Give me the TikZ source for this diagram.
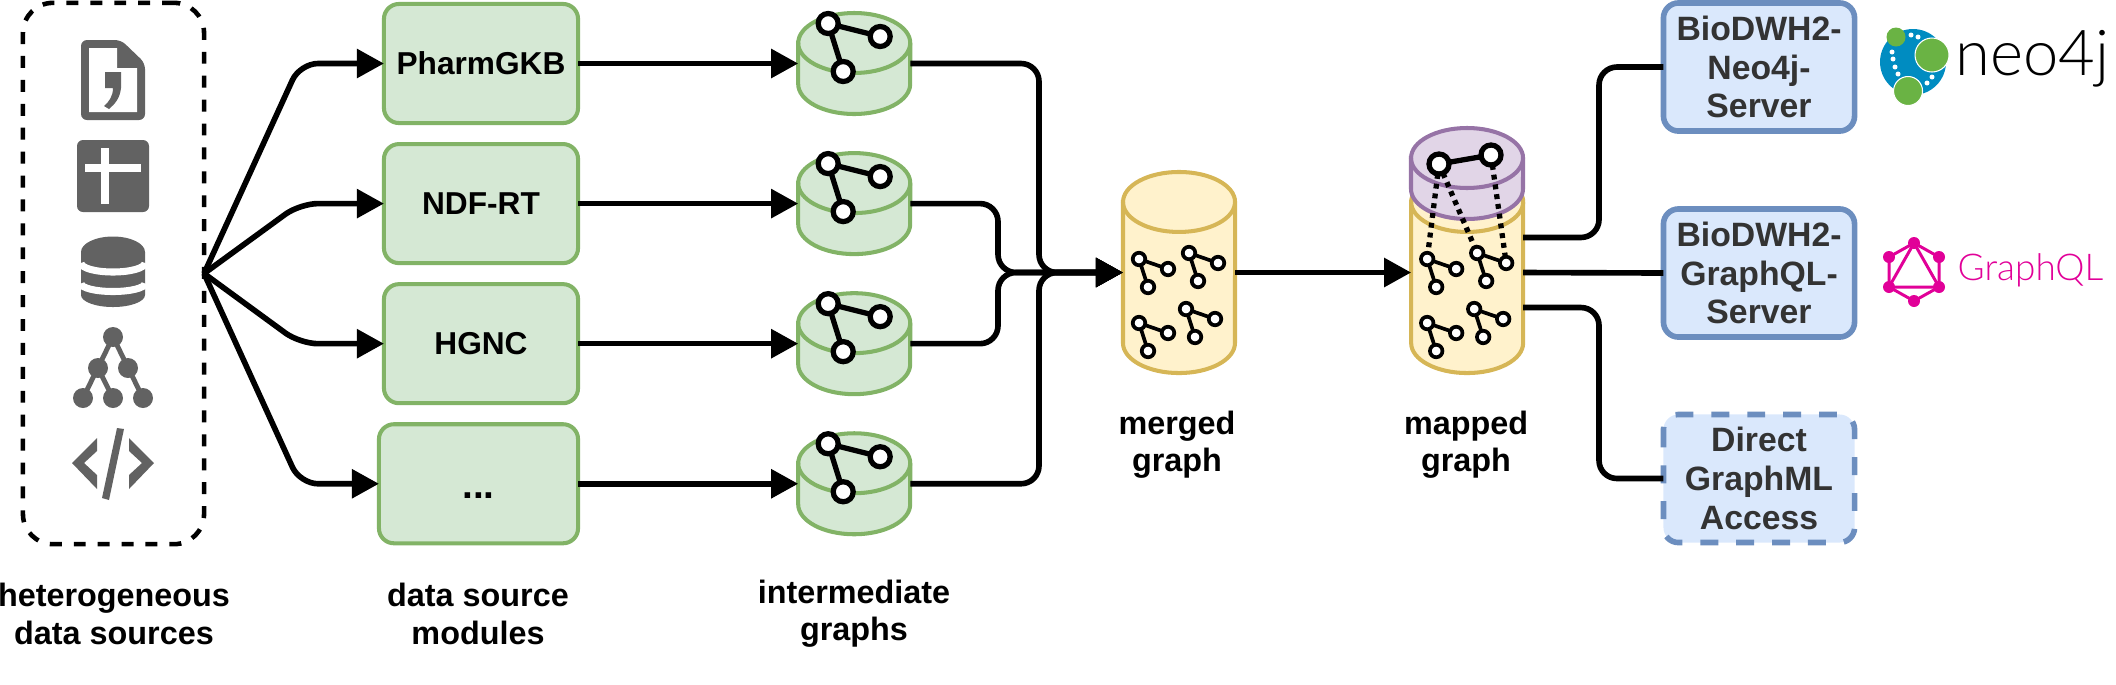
\documentclass[tikz,border=0pt]{standalone}
\usepackage{xcolor}
\usepackage{fontspec}
\setmainfont{Liberation Sans}
\newfontfamily\logofont[UprightFont=* Light]{Lato}
\usetikzlibrary{positioning,arrows.meta}
\definecolor{cgreen}{HTML}{D5E8D4}
\definecolor{dgreen}{HTML}{82B366}
\definecolor{cyellow}{HTML}{FFF2CC}
\definecolor{dyellow}{HTML}{D6B656}
\definecolor{cpurple}{HTML}{E1D5E7}
\definecolor{dpurple}{HTML}{9673A6}
\definecolor{cblue}{HTML}{DAE8FC}
\definecolor{dblue}{HTML}{6C8EBF}
\definecolor{cicon}{HTML}{626262}
\definecolor{ctext}{HTML}{333333}
\definecolor{cneoblue}{HTML}{008CC1}
\definecolor{cneogreen}{HTML}{6AB344}
\definecolor{cgql}{HTML}{E10098}
\newcommand{\drum}[3]{
  \filldraw[fill=#2, draw=#3, line width=1.15pt] ([yshift=-0.3cm]#1.north west)
    -- ([yshift=0.3cm]#1.south west) arc[start angle=180, end angle=0, x radius=56, y radius=30]
    -- ([yshift=-0.3cm]#1.north east) arc[start angle=0, end angle=-180, x radius=56, y radius=30] -- cycle;
  \draw[#3, line width=1.15pt] ([yshift=-0.3cm]#1.north west) arc[start angle=180, end angle=0, x radius=56, y radius=30];
}
\tikzset{
  modbox/.style={rounded corners=0.15cm, draw=dgreen, fill=cgreen, line width=1.15pt,
    minimum height=1.19cm, minimum width=1.94cm, inner sep=0pt, outer sep=0pt,
    align=center, font=\bfseries\fontsize{9}{11}\selectfont},
  srvbox/.style={rounded corners=0.15cm, draw=dblue, fill=cblue, line width=1.6pt,
    minimum height=1.28cm, minimum width=1.91cm, inner sep=0pt, outer sep=0pt,
    align=center, text=ctext, font=\bfseries\fontsize{9.6}{11}\selectfont},
  lowdrum/.style={minimum height=1.01cm, minimum width=1.12cm, inner sep=0pt, outer sep=0pt},
  talldrum/.style={minimum height=2.01cm, minimum width=1.12cm, inner sep=0pt, outer sep=0pt},
  caption/.style={align=center, font=\bfseries\fontsize{9.2}{10.6}\selectfont},
  flowline/.style={line width=1.6pt, rounded corners=0.18cm},
  flowarrow/.style={flowline, -{Triangle[length=7.7pt,width=8pt]}},
  linkdots/.style={line width=1.5pt, dash pattern=on 1.4pt off 1.4pt},
  bignode/.style={circle, draw, fill=white, line width=1.5pt, minimum size=0.2cm, inner sep=0pt, outer sep=0pt},
  tinynode/.style={circle, draw, fill=white, line width=1.05pt, minimum size=0.125cm, inner sep=0pt, outer sep=0pt},
  bigtree/.pic={
    \node[bignode] (-a) at (0,0) {};
    \node[bignode] (-b) at (52,13) {};
    \node[bignode] (-c) at (15,48) {};
    \draw[line width=1.5pt] (-a) -- (-b);
    \draw[line width=1.5pt] (-a) -- (-c);
  },
  tinytree/.pic={
    \node[tinynode] (-a) at (0,0) {};
    \node[tinynode] (-b) at (29,10) {};
    \node[tinynode] (-c) at (9,28) {};
    \draw[line width=1.05pt] (-a) -- (-b);
    \draw[line width=1.05pt] (-a) -- (-c);
  }
}
\begin{document}
\begin{tikzpicture}[x=0.01cm, y=-0.01cm]
  \useasboundingbox (0,0) rectangle (2116,684);

  \node[rounded corners=0.3cm, draw, line width=1.3pt, dash pattern=on 3.4pt off 3.4pt,
    minimum width=1.81cm, minimum height=5.41cm, inner sep=0pt, outer sep=0pt] (sources) at (113.5,273.5) {};

  \fill[cicon, rounded corners=0.06cm] (81,40) -- (121,40) -- (145,63) -- (145,120) -- (81,120) -- cycle;
  \fill[white] (89,48) -- (117,48) -- (117,68) -- (137,68) -- (137,112) -- (89,112) -- cycle;
  \fill[cicon] (105,72) -- (121,72) -- (121,88) .. controls (120,98) and (115,104) .. (109,109) -- (104,106) .. controls (109,102) and (113,96) .. (113,88) -- (105,88) -- cycle;
  \fill[cicon, rounded corners=0.06cm] (77,140) rectangle (149,212);
  \fill[white] (101,148) rectangle (109,204);
  \fill[white] (85,164) rectangle (141,172);
  \fill[cicon] (81,252) -- (81,295) arc[start angle=180, end angle=0, x radius=32, y radius=12] -- (145,252) -- cycle;
  \fill[cicon] (113,252) ellipse[x radius=32, y radius=15.5];
  \draw[white, line width=2pt] (81,263) arc[start angle=180, end angle=0, x radius=32, y radius=9];
  \draw[white, line width=2pt] (81,283.5) arc[start angle=180, end angle=0, x radius=32, y radius=8];
  \fill[cicon] (113,337) circle[radius=10];
  \fill[cicon] (98,368) circle[radius=10];
  \fill[cicon] (128,368) circle[radius=10];
  \fill[cicon] (83,398) circle[radius=10];
  \fill[cicon] (113,398) circle[radius=10];
  \fill[cicon] (143,398) circle[radius=10];
  \draw[cicon, line width=1.4pt] (83,398) -- (113,337) -- (143,398);
  \draw[cicon, line width=1.4pt] (98,368) -- (113,398);
  \fill[cicon] (97,438) -- (72,463) -- (97,489) -- (97,475) -- (84,463) -- (97,451) -- cycle;
  \fill[cicon] (129,438) -- (154,463) -- (129,489) -- (129,475) -- (142,463) -- (129,451) -- cycle;
  \fill[cicon] (117,428) -- (124,429) -- (109,500) -- (102,498) -- cycle;

  \node[modbox] (pharm) at (481,63.5) {PharmGKB};
  \node[modbox, below=0.21cm of pharm] (ndfrt) {NDF-RT};
  \node[modbox, below=0.21cm of ndfrt] (hgnc) {HGNC};
  \node[modbox, minimum width=1.99cm, below=0.21cm of hgnc.south east, anchor=north east,
    font=\bfseries\fontsize{11}{11}\selectfont] (more) {\raisebox{-2pt}{...}\strut};

  \node[lowdrum, right=2.2cm of pharm] (igpharm) {};
  \node[lowdrum, right=2.2cm of ndfrt] (igndfrt) {};
  \node[lowdrum, right=2.2cm of hgnc] (ighgnc) {};
  \node[lowdrum, right=2.2cm of more] (igmore) {};
  \drum{igpharm}{cgreen}{dgreen}
  \drum{igndfrt}{cgreen}{dgreen}
  \drum{ighgnc}{cgreen}{dgreen}
  \drum{igmore}{cgreen}{dgreen}
  \pic (tp) at ([shift={(30,-40)}]igpharm.west) {bigtree};
  \pic (tn) at ([shift={(30,-40)}]igndfrt.west) {bigtree};
  \pic (th) at ([shift={(30,-40)}]ighgnc.west) {bigtree};
  \pic (tm) at ([shift={(30,-40)}]igmore.west) {bigtree};

  \node[talldrum] (merged) at (1179,272.5) {};
  \node[talldrum, right=1.76cm of merged] (mapped) {};
  \node[lowdrum, minimum height=0.91cm] (mapping) at (1467,173.5) {};
  \drum{merged}{cyellow}{dyellow}
  \drum{mapped}{cyellow}{dyellow}
  \drum{mapping}{cpurple}{dpurple}

  \pic (ga) at ([shift={(-40,-13.5)}]merged.center) {tinytree};
  \pic (gb) at ([shift={(10,-19.5)}]merged.center) {tinytree};
  \pic (gc) at ([shift={(-40,50.5)}]merged.center) {tinytree};
  \pic (gd) at ([shift={(7,36.5)}]merged.center) {tinytree};
  \pic (ma) at ([shift={(-40,-13.5)}]mapped.center) {tinytree};
  \pic (mb) at ([shift={(10,-19.5)}]mapped.center) {tinytree};
  \pic (mc) at ([shift={(-40,50.5)}]mapped.center) {tinytree};
  \pic (md) at ([shift={(7,36.5)}]mapped.center) {tinytree};

  \node[bignode] (topa) at (1439,164) {};
  \node[bignode] (topb) at (1491,155) {};
  \draw[line width=1.5pt] (topa) -- (topb);
  \draw[linkdots] (topa) -- (ma-a);
  \draw[linkdots] (topa) -- (mb-a);
  \draw[linkdots] (topb) -- (mb-b);

  \node[srvbox] (neoserver) at (1759,67) {BioDWH2-\\Neo4j-\\Server};
  \node[srvbox] (gqlserver) at (1759,273) {BioDWH2-\\GraphQL-\\Server};
  \node[srvbox, draw=none] (direct) at (1759,478.5) {Direct\\GraphML\\Access};
  \draw[dblue, line width=1.6pt, dash pattern=on 5.1pt off 5.1pt, rounded corners=0.15cm]
    (direct.north west) rectangle (direct.south east);

  \coordinate (fanx) at (300,0);
  \coordinate (jointa) at (998,272.5);
  \coordinate (jointb) at (1039,272.5);
  \coordinate (bendout) at (1599,0);

  \draw[flowarrow] (sources.east) -- (pharm.west -| fanx) -- (pharm.west);
  \draw[flowarrow] (sources.east) -- (ndfrt.west -| fanx) -- (ndfrt.west);
  \draw[flowarrow] (sources.east) -- (hgnc.west -| fanx) -- (hgnc.west);
  \draw[flowarrow] (sources.east) -- (more.west -| fanx) -- (more.west);

  \draw[flowarrow] (pharm) -- (igpharm);
  \draw[flowarrow] (ndfrt) -- (igndfrt);
  \draw[flowarrow] (hgnc) -- (ighgnc);
  \draw[flowarrow] (more) -- (igmore);

  \draw[flowarrow] (igpharm.east) -| (jointb) -- (merged.west);
  \draw[flowarrow] (igndfrt.east) -| (jointa) -- (merged.west);
  \draw[flowarrow] (ighgnc.east) -| (jointa) -- (merged.west);
  \draw[flowarrow] (igmore.east) -| (jointb) -- (merged.west);
  \draw[flowarrow] (merged) -- (mapped);

  \draw[flowline] ([yshift=0.35cm]mapped.east) -| (bendout |- neoserver.west) -- (neoserver.west);
  \draw[flowline] (mapped.east) -- (gqlserver.west);
  \draw[flowline] ([yshift=-0.35cm]mapped.east) -| (bendout |- direct.west) -- (direct.west);

  \node[caption] (capsources) at (114,614) {heterogeneous\\data sources};
  \node[caption] (capmodules) at (478,614) {data source\\modules};
  \node[caption] (capinter) at (854,614) {intermediate\\graphs};
  \node[caption] (capmerged) at (1177,445) {merged\\graph};
  \node[caption] (capmapped) at (1466,445) {mapped\\graph};

  \fill[cneoblue] (1913,62) circle[radius=33];
  \fill[cneogreen] (1896,37) circle[radius=9.5];
  \filldraw[cneogreen, draw=white, line width=0.3pt] (1932,55) circle[radius=17];
  \filldraw[cneogreen, draw=white, line width=0.3pt] (1908,91) circle[radius=14.5];
  \fill[white] (1911,35) circle[radius=2.5];
  \fill[white] (1918,37) circle[radius=2.5];
  \fill[white] (1892,52) circle[radius=2.5];
  \fill[white] (1893,59) circle[radius=2.5];
  \fill[white] (1895,67) circle[radius=2.5];
  \fill[white] (1898,74) circle[radius=2.5];
  \fill[white] (1927,83) circle[radius=2.5];
  \fill[white] (1932,77) circle[radius=2.5];
  \node[anchor=base west, inner sep=0pt, font=\logofont\fontsize{18}{18}\selectfont] (neologo) at (1955,75) {neo4j};

  \draw[cgql, line width=0.85pt] (1914,243) -- (1939,257) -- (1939,287) -- (1914,301) -- (1889,287) -- (1889,257) -- cycle;
  \draw[cgql, line width=0.85pt] (1914,243) -- (1939,287) -- (1889,287) -- cycle;
  \fill[cgql] (1914,243) circle[radius=6];
  \fill[cgql] (1939,257) circle[radius=6];
  \fill[cgql] (1939,287) circle[radius=6];
  \fill[cgql] (1914,301) circle[radius=6];
  \fill[cgql] (1889,287) circle[radius=6];
  \fill[cgql] (1889,257) circle[radius=6];
  \node[anchor=base west, inner sep=0pt, text=cgql, font=\logofont\fontsize{10.5}{10.5}\selectfont] (gqllogo) at (1957,280) {GraphQL};
\end{tikzpicture}
\end{document}
